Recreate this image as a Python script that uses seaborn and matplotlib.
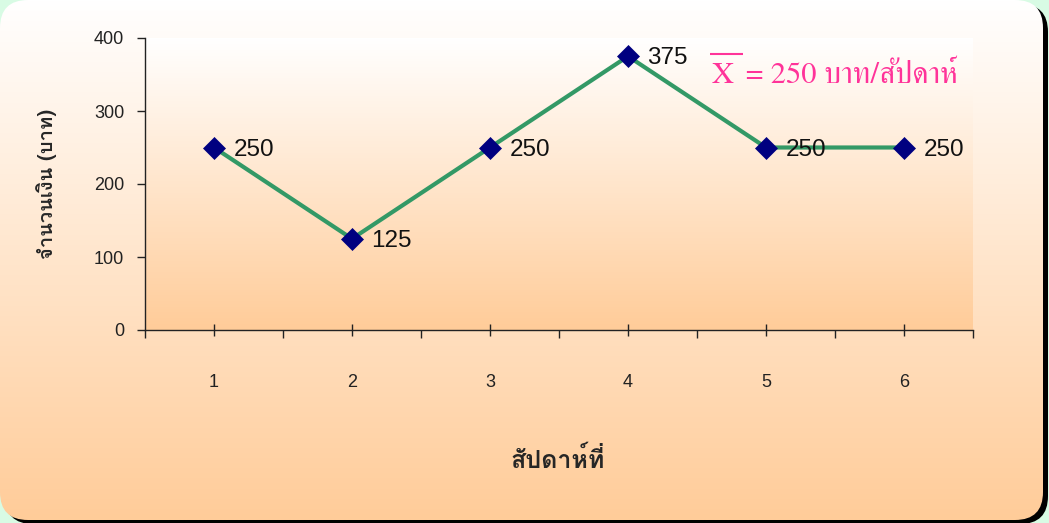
import numpy as np
import matplotlib
matplotlib.use("Agg")
import matplotlib.pyplot as plt
from matplotlib.patches import FancyBboxPatch
from matplotlib.lines import Line2D
from matplotlib.colors import to_rgb
import seaborn as sns

# Weekly savings data
weeks = [1, 2, 3, 4, 5, 6]
amounts = [250, 125, 250, 375, 250, 250]
week_labels = ["1", "2", "3", "4", "5", "6"]
y_ticks = [0, 100, 200, 300, 400]
mean_value = 250

sns.set_style("ticks")
plt.rcParams["font.family"] = ["Liberation Sans", "DejaVu Sans"]

W, H = 1049, 523
MINT = "#D8FBE4"
PEACH = "#FFCC99"
LINE = "#339966"
NAVY = "#000080"
PINK = "#FF3399"
THAI = ["Loma", "Noto Sans Thai Looped", "DejaVu Sans"]
SERIF = ["FreeSerif", "DejaVu Serif"]

fig = plt.figure(figsize=(W / 100, H / 100), dpi=100)
fig.patch.set_facecolor(MINT)


def vertical_gradient(top, bottom, n=256):
    t = np.linspace(0, 1, n)[:, None]
    a, b = np.array(to_rgb(top)), np.array(to_rgb(bottom))
    return (a + (b - a) * t)[:, None, :].repeat(2, axis=1)


# Rounded card with drop shadow behind the chart
bg = fig.add_axes([0, 0, 1, 1], zorder=-10)
bg.set_xlim(0, W)
bg.set_ylim(H, 0)
bg.axis("off")
box_w, box_h, rad = 1043, 520, 28
shadow = FancyBboxPatch((5, 4), box_w, box_h,
                        boxstyle=f"round,pad=0,rounding_size={rad}",
                        fc="black", ec="none")
bg.add_patch(shadow)
card = FancyBboxPatch((0, 0), box_w, box_h,
                      boxstyle=f"round,pad=0,rounding_size={rad}",
                      fc="none", ec="none")
bg.add_patch(card)
im = bg.imshow(vertical_gradient("#FFFFFF", PEACH), extent=(0, box_w, box_h, 0),
               aspect="auto", interpolation="bilinear", zorder=1)
im.set_clip_path(card)

# Plot area
ax = fig.add_axes([145 / W, 193 / H, 828 / W, 292 / H])
ax.patch.set_visible(False)
ax.imshow(vertical_gradient("#FFFFFF", PEACH), extent=(0.5, 6.5, 0, 400),
          aspect="auto", interpolation="bilinear", zorder=0)

sns.lineplot(x=weeks, y=amounts, ax=ax, color=LINE, linewidth=3,
             marker="D", markersize=11, markerfacecolor=NAVY,
             markeredgecolor=NAVY, markeredgewidth=0.5, zorder=3,
             clip_on=False)

for x, y in zip(weeks, amounts):
    ax.annotate(f"{y}", (x, y), xytext=(14, -1.5), textcoords="offset points",
                ha="left", va="center", fontsize=17.5, color="#111111", zorder=5)

ax.set_xlim(0.5, 6.5)
ax.set_ylim(0, 400)
ax.set_xticks(weeks)
ax.set_xticklabels(week_labels)
ax.set_xticks(np.arange(0.5, 7, 1), minor=True)
ax.set_yticks(y_ticks)
ax.tick_params(axis="x", which="major", direction="inout", length=8, width=1,
               pad=28, labelsize=13, color="#222222", labelcolor="#222222")
ax.tick_params(axis="x", which="minor", direction="out", length=5.5, width=1,
               color="#222222")
ax.tick_params(axis="y", direction="out", length=6, width=1, pad=9,
               labelsize=13, color="#222222", labelcolor="#222222")
for s in ("top", "right"):
    ax.spines[s].set_visible(False)
for s in ("left", "bottom"):
    ax.spines[s].set_color("#222222")
    ax.spines[s].set_linewidth(1)

ax.set_ylabel("จำนวนเงิน (บาท)", family=THAI, fontweight="bold", fontsize=14.5)
ax.yaxis.set_label_coords(-0.106, 0.5)
ax.set_xlabel("สัปดาห์ที่", family=THAI, fontweight="bold", fontsize=18)
ax.xaxis.set_label_coords(0.498, -0.40)

# Mean annotation: X with an overline, then the value
mean_fs = 22
x_sym = ax.text(0.6848, 0.846, "X", transform=ax.transAxes, family=SERIF,
                fontsize=mean_fs, color=PINK, ha="left", va="baseline")
ax.text(0.7258, 0.846, f"= {mean_value} บาท/สัปดาห์", transform=ax.transAxes,
        family=SERIF, fontsize=mean_fs, color=PINK, ha="left", va="baseline")

fig.canvas.draw()
renderer = fig.canvas.get_renderer()
bb = x_sym.get_window_extent(renderer)
base_y = ax.transAxes.transform((0.6848, 0.846))[1]
em_px = mean_fs * fig.dpi / 72
bar_y = base_y + 0.662 * em_px + 9
inv = fig.transFigure.inverted()
(x0, y0), (x1, _) = inv.transform([(bb.x0 - 2, bar_y), (bb.x1 + 9, bar_y)])
fig.add_artist(Line2D([x0, x1], [y0, y0], transform=fig.transFigure,
                      color=PINK, lw=1.5, solid_capstyle="butt"))

fig.savefig("out.png", dpi=100, facecolor=fig.get_facecolor())
